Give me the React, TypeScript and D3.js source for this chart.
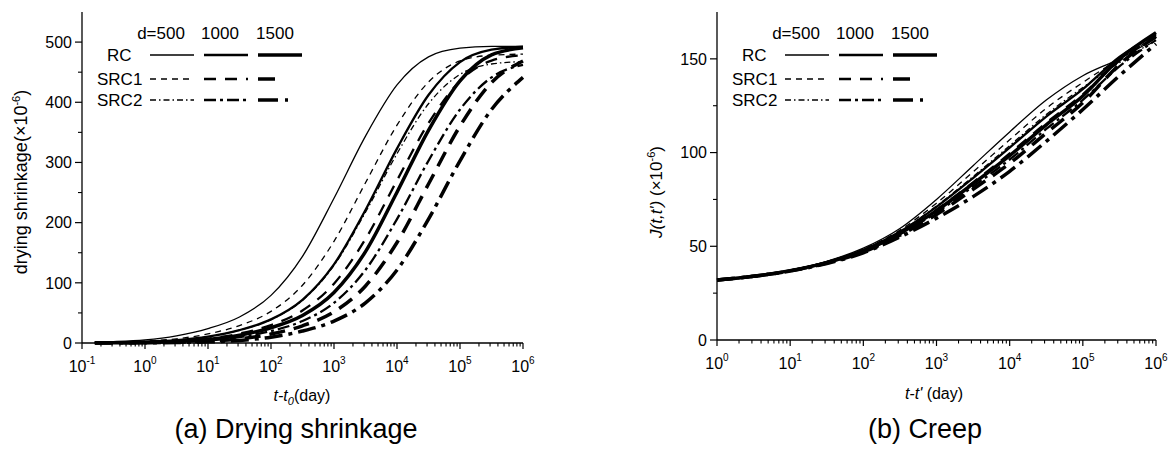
import React from 'react';
import * as d3 from 'd3';

// time grids (days)
const shrinkDays = [0.16, 0.316, 1, 3.16, 10, 31.6, 100, 316, 1000, 3162, 10000, 31623, 100000, 316228, 1000000];
const creepDays = [1, 3.16, 10, 31.6, 100, 316, 1000, 3162, 10000, 31623, 100000, 316228, 1000000];

// drying shrinkage (x10^-6)
const shRC500 = [1.5, 2.4, 5.2, 11.9, 23.9, 43.2, 79.1, 144, 240.6, 343.8, 428.8, 475.5, 489.8, 492.8, 493];
const shRC1000 = [0.4, 0.9, 2.1, 4.7, 10.5, 21.4, 39.2, 71.7, 130.6, 220.9, 323, 412, 466.8, 487.3, 492.4];
const shRC1500 = [0.3, 0.5, 1.0, 2.6, 5.7, 12.8, 25.4, 45.8, 84, 151.8, 250.6, 353.4, 435.6, 478.7, 490.5];
const shSRC1_500 = [0.9, 1.3, 3.2, 7.0, 15.1, 29, 52.6, 96, 169, 266.2, 362, 433.6, 468.7, 478.2, 480];
const shSRC1_1000 = [0.4, 0.6, 1.4, 3.3, 7.3, 15.6, 29.8, 54, 98.6, 172.8, 270.2, 365.3, 435.4, 469.2, 478.3];
const shSRC1_1500 = [0.2, 0.3, 0.6, 1.3, 3.1, 6.9, 14.9, 28.6, 51.8, 94.8, 167, 264.2, 360.4, 432.8, 468.5];
const shSRC2_500 = [0.6, 0.8, 2.1, 4.6, 10.5, 21.3, 38.8, 70.9, 129, 217.2, 314.6, 397.5, 446.4, 463.6, 467.6];
const shSRC2_1000 = [0.3, 0.4, 0.8, 1.9, 4.3, 9.7, 19.9, 36.5, 66.7, 121.4, 205.9, 302.8, 388, 441.3, 462.2];
const shSRC2_1500 = [0.1, 0.2, 0.4, 0.8, 1.9, 4.3, 9.7, 19.9, 36.5, 66.7, 121.4, 205.9, 302.8, 388, 441.3];

// creep compliance J(t,t') (x10^-6)
const crRC500 = [32, 34, 37.2, 42, 49, 59.5, 75, 93, 111, 128, 141, 150, 161];
const crSRC1_500 = [32, 34, 37.1, 41.8, 48.5, 58.6, 73, 89.7, 106.8, 123.6, 137.4, 150, 162];
const crSRC2_500 = [32, 34, 37.1, 41.6, 48.1, 57.9, 71.5, 87.2, 103.7, 120.3, 134.7, 148, 160];
const crRC1000 = [32, 34, 37.0, 41.5, 48, 57.7, 71, 86.4, 102.6, 119.2, 133.8, 151, 163];
const crSRC1_1000 = [32, 34, 37.0, 41.3, 47.6, 57, 69.5, 84.1, 99.5, 115.9, 131.1, 149, 162];
const crRC1500 = [32, 34, 37.0, 41.3, 47.5, 56.8, 69, 83.4, 98.4, 114.8, 130.2, 150, 164];
const crSRC2_1000 = [32, 34, 36.9, 41.2, 47.3, 56.4, 68, 81.9, 96.3, 112.6, 128.1, 146, 160];
const crSRC1_1500 = [32, 34, 36.9, 41.0, 47, 55.9, 67, 80.4, 94.2, 110.4, 126.6, 147, 162];
const crSRC2_1500 = [32, 34, 36.8, 40.8, 46.5, 55, 65, 76.5, 90, 106, 123, 141, 158];

const members = ['RC', 'SRC1', 'SRC2'];
const depths = [500, 1000, 1500];

const shrinkSeries = [
  {m: 'RC', d: 500, v: shRC500}, {m: 'RC', d: 1000, v: shRC1000}, {m: 'RC', d: 1500, v: shRC1500},
  {m: 'SRC1', d: 500, v: shSRC1_500}, {m: 'SRC1', d: 1000, v: shSRC1_1000}, {m: 'SRC1', d: 1500, v: shSRC1_1500},
  {m: 'SRC2', d: 500, v: shSRC2_500}, {m: 'SRC2', d: 1000, v: shSRC2_1000}, {m: 'SRC2', d: 1500, v: shSRC2_1500},
];
const creepSeries = [
  {m: 'RC', d: 500, v: crRC500}, {m: 'RC', d: 1000, v: crRC1000}, {m: 'RC', d: 1500, v: crRC1500},
  {m: 'SRC1', d: 500, v: crSRC1_500}, {m: 'SRC1', d: 1000, v: crSRC1_1000}, {m: 'SRC1', d: 1500, v: crSRC1_1500},
  {m: 'SRC2', d: 500, v: crSRC2_500}, {m: 'SRC2', d: 1000, v: crSRC2_1000}, {m: 'SRC2', d: 1500, v: crSRC2_1500},
];

const widths: Record<number, number> = {500: 1.3, 1000: 2.3, 1500: 3.5};
const dashes: Record<string, Record<number, string | undefined>> = {
  RC: {500: undefined, 1000: undefined, 1500: undefined},
  SRC1: {500: '6,5', 1000: '12,9', 1500: '16,9'},
  SRC2: {500: '6,3,1.5,3', 1000: '12,4,3,4', 1500: '18,6,4,6'},
};

const FONT = '"Liberation Sans", Arial, sans-serif';

type Props = {
  left: number; right: number; top: number; bottom: number;
  xMin: number; yMax: number; yMajor: number;
  days: number[]; series: {m: string; d: number; v: number[]}[];
};

const Panel = ({left, right, top, bottom, xMin, yMax, yMajor, days, series}: Props) => {
  const x = d3.scaleLog().domain([xMin, 1e6]).range([left, right]);
  const y = d3.scaleLinear().domain([0, yMax]).range([bottom, top]);
  const line = d3.line<number>()
    .x((_, i) => x(days[i]))
    .y(v => y(v))
    .curve(d3.curveMonotoneX);

  const decades = d3.range(Math.round(Math.log10(xMin)), 7);
  const minorX: number[] = [];
  decades.slice(0, -1).forEach(e => { for (let k = 2; k < 10; k++) minorX.push(k * Math.pow(10, e)); });
  const majorY = d3.range(0, yMax + 0.1, yMajor);
  const minorY = d3.range(yMajor / 2, yMax, yMajor);

  // legend geometry relative to the y axis
  const colX = [left + 68, left + 122, left + 176];
  const rowY = [55, 79, 100];
  const headX = [left + 79, left + 138, left + 193];

  return (
    <g fontFamily={FONT} fill="#000">
      {series.map((s, i) => (
        <path key={i} d={line(s.v) || ''} fill="none" stroke="#000" strokeWidth={widths[s.d]}
              strokeDasharray={dashes[s.m][s.d]} />
      ))}
      {/* axes */}
      <line x1={left} x2={left} y1={top} y2={bottom} stroke="#000" strokeWidth={1.3} />
      <line x1={left} x2={right} y1={bottom} y2={bottom} stroke="#000" strokeWidth={1.3} />
      {majorY.map(v => (
        <g key={'my' + v}>
          <line x1={left - 7} x2={left} y1={y(v)} y2={y(v)} stroke="#000" strokeWidth={1.2} />
          <text x={left - 10} y={y(v)} dy="0.36em" textAnchor="end" fontSize={16}>{v}</text>
        </g>
      ))}
      {minorY.map(v => (
        <line key={'ny' + v} x1={left - 4} x2={left} y1={y(v)} y2={y(v)} stroke="#000" strokeWidth={1.1} />
      ))}
      {decades.map(e => (
        <g key={'mx' + e}>
          <line x1={x(Math.pow(10, e))} x2={x(Math.pow(10, e))} y1={bottom} y2={bottom + 6} stroke="#000" strokeWidth={1.2} />
          <text x={x(Math.pow(10, e))} y={bottom + 29} textAnchor="middle" fontSize={16}>
            10<tspan dy={-8} fontSize={10}>{e}</tspan>
          </text>
        </g>
      ))}
      {minorX.map(v => (
        <line key={'nx' + v} x1={x(v)} x2={x(v)} y1={bottom} y2={bottom + 3.5} stroke="#000" strokeWidth={1.1} />
      ))}
      {/* legend */}
      {depths.map((d, j) => (
        <text key={'h' + d} x={headX[j]} y={39} textAnchor="middle" fontSize={17}>{j === 0 ? 'd=500' : d}</text>
      ))}
      {members.map((m, r) => (
        <g key={'lg' + m}>
          <text x={m === 'RC' ? left + 25 : left + 15} y={rowY[r]} dy="0.36em" fontSize={17}>{m}</text>
          {depths.map((d, j) => {
            const x1 = colX[j];
            const x2 = m === 'SRC1' && d === 1500 ? x1 + 17 : m === 'SRC2' && d === 1500 ? x1 + 32 : x1 + 44;
            return <line key={d} x1={x1} x2={x2} y1={rowY[r]} y2={rowY[r]} stroke="#000"
                         strokeWidth={widths[d]} strokeDasharray={m === 'SRC2' && d === 1500 ? '20,7,3,7' : m === 'SRC1' && d === 1500 ? undefined : dashes[m][d]} />;
          })}
        </g>
      ))}
    </g>
  );
};

const App = () => {
  return (
    <div>
      <style>{'body{margin:0;background:#fff}'}</style>
      <svg width={1174} height={450} style={{display: 'block', background: '#fff'}}>
        <Panel left={82} right={523} top={12} bottom={343} xMin={0.1} yMax={550} yMajor={100}
               days={shrinkDays} series={shrinkSeries} />
        <Panel left={717} right={1156} top={12} bottom={340} xMin={1} yMax={175} yMajor={50}
               days={creepDays} series={creepSeries} />

        <g fontFamily={FONT}>
          <text transform="translate(27,182) rotate(-90)" textAnchor="middle" fontSize={18}>
            drying shrinkage(×10<tspan dy={-7} fontSize={11}>-6</tspan><tspan dy={7}>)</tspan>
          </text>
          <text x={302} y={401} textAnchor="middle" fontSize={16}>
            <tspan fontStyle="italic">t-t</tspan><tspan fontStyle="italic" fontSize={11} dy={4}>0</tspan><tspan dy={-4}>(day)</tspan>
          </text>
          <text x={296} y={438} textAnchor="middle" fontSize={27}>(a) Drying shrinkage</text>

          <text transform="translate(662,192) rotate(-90)" textAnchor="middle" fontSize={17}>
            <tspan fontStyle="italic">J(t,t')</tspan> (×10<tspan dy={-7} fontSize={11}>-6</tspan><tspan dy={7}>)</tspan>
          </text>
          <text x={934} y={399} textAnchor="middle" fontSize={16}>
            <tspan fontStyle="italic">t-t'</tspan> (day)
          </text>
          <text x={925} y={438} textAnchor="middle" fontSize={27}>(b) Creep</text>
        </g>
      </svg>
    </div>
  );
};

export default App;
